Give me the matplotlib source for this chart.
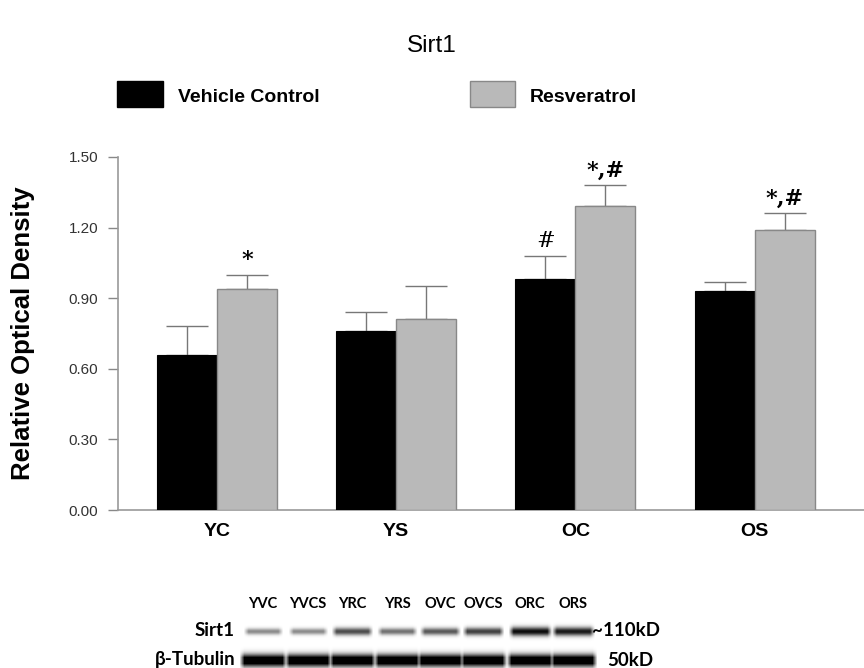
import numpy as np
import matplotlib
matplotlib.use('Agg')
import matplotlib.pyplot as plt
from matplotlib.patches import Rectangle

# data
groups = ['YC', 'YS', 'OC', 'OS']
vehicle = [0.66, 0.76, 0.98, 0.93]
vehicle_err = [0.12, 0.08, 0.10, 0.04]
resv = [0.94, 0.81, 1.29, 1.19]
resv_err = [0.06, 0.14, 0.09, 0.07]
vehicle_marks = ['', '', '#', '']
resv_marks = ['*', '', '*,#', '*,#']
yticks = [0.00, 0.30, 0.60, 0.90, 1.20, 1.50]

# western blot lanes
lanes = ['YVC', 'YVCS', 'YRC', 'YRS', 'OVC', 'OVCS', 'ORC', 'ORS']
sirt1_band = [0.45, 0.45, 0.7, 0.55, 0.65, 0.75, 0.95, 0.9]
tubulin_band = [1.0, 1.0, 1.0, 1.0, 1.0, 1.0, 1.0, 1.0]

plt.rcParams['font.family'] = ['Liberation Sans', 'DejaVu Sans']

fig = plt.figure(figsize=(8.64, 6.68), dpi=100)
ax = fig.add_axes([118/864, 1 - 510/668, 1 - 118/864, (510 - 157)/668])

x = np.arange(len(groups))
w = 0.335
gray = '#b9b9b9'
ax.bar(x - w/2, vehicle, w, color='black', edgecolor='black', linewidth=0.8, zorder=3)
ax.bar(x + w/2, resv, w, color=gray, edgecolor='#888888', linewidth=1.0, zorder=3)
ax.errorbar(x - w/2, vehicle, yerr=[np.zeros(4), vehicle_err], fmt='none',
            ecolor='#777777', elinewidth=1.0, capsize=15, capthick=1.0, zorder=2)
ax.errorbar(x + w/2, resv, yerr=[np.zeros(4), resv_err], fmt='none',
            ecolor='#777777', elinewidth=1.0, capsize=15, capthick=1.0, zorder=2)

for i in range(len(groups)):
    if vehicle_marks[i]:
        ax.text(x[i] - w/2, vehicle[i] + vehicle_err[i] + 0.015, vehicle_marks[i],
                ha='center', va='bottom', fontsize=16, family='DejaVu Serif')
    if resv_marks[i]:
        ax.text(x[i] + w/2, resv[i] + resv_err[i] + 0.015, resv_marks[i],
                ha='center', va='bottom', fontsize=16, family='DejaVu Serif',
                fontweight='bold')

ax.set_xlim(-0.552, 3.61)
ax.set_ylim(0, 1.5)
ax.set_yticks(yticks)
ax.set_yticklabels(['%.2f' % t for t in yticks], fontsize=11, color='#333333')
ax.set_xticks(x)
ax.set_xticklabels(groups, fontsize=14, fontweight='bold')
ax.tick_params(axis='x', length=0, pad=9)
ax.tick_params(axis='y', length=7.2, width=1, color='#888888', pad=7)
for s in ['top', 'right']:
    ax.spines[s].set_visible(False)
for s in ['left', 'bottom']:
    ax.spines[s].set_color('#999999')
    ax.spines[s].set_linewidth(1.2)
ax.set_ylabel('Relative Optical Density', fontsize=18.5, fontweight='bold', labelpad=24)

# overlay in pixel coordinates for title, legend and blot
ov = fig.add_axes([0, 0, 1, 1], zorder=-1)
ov.axis('off')
ov.patch.set_alpha(0)

ov.text(432, 46, 'Sirt1', ha='center', va='center', fontsize=17.5)
ov.add_patch(Rectangle((117, 81), 46, 26, facecolor='black', edgecolor='black'))
ov.text(178, 97, 'Vehicle Control', va='center', fontsize=14, fontweight='bold')
ov.add_patch(Rectangle((470, 81), 45, 26, facecolor=gray, edgecolor='#888888'))
ov.text(530, 97, 'Resveratrol', va='center', fontsize=14, fontweight='bold')

lane_x = [263, 308, 352, 397, 440, 483, 530, 573]
bf = ['Lato', 'DejaVu Sans']
for lx, name in zip(lane_x, lanes):
    ov.text(lx, 604, name, ha='center', va='center', fontsize=10.5, fontweight='bold', family=bf)
ov.text(235, 631, 'Sirt1', ha='right', va='center', fontsize=13.5, fontweight='bold', family=bf)
ov.text(235, 660, 'β-Tubulin', ha='right', va='center', fontsize=13.5, fontweight='bold', family=bf)
ov.text(592, 631, '~110kD', ha='left', va='center', fontsize=13.5, fontweight='bold', family=bf)
ov.text(607, 660, '50kD', ha='left', va='center', fontsize=13.5, fontweight='bold', family=bf)

# blot image built from band intensities
xs = np.arange(236, 600)
ys = np.arange(612, 676)
img = np.zeros((len(ys), len(xs)))
XX, YY = np.meshgrid(xs, ys)
for lx, a, b in zip(lane_x, sirt1_band, tubulin_band):
    hw1 = 18 + 4 * a
    h1 = np.clip((hw1 - np.abs(XX - lx)) / 5.0, 0, 1)
    v1 = np.exp(-((YY - 631) / (2.0 + 2.6 * a)) ** 2)
    img = np.maximum(img, a * h1 * v1)
    h2 = np.clip((24 - np.abs(XX - lx)) / 5.0, 0, 1)
    v2 = np.clip(1.3 * np.exp(-((YY - 660) / 6.0) ** 2), 0, 1)
    img = np.maximum(img, b * h2 * v2)
ov.imshow(1 - img, cmap='gray', vmin=0, vmax=1, extent=[236, 600, 676, 612],
          aspect='auto', interpolation='bilinear')
ov.set_xlim(0, 864)
ov.set_ylim(668, 0)

fig.savefig('out.png', dpi=100)
